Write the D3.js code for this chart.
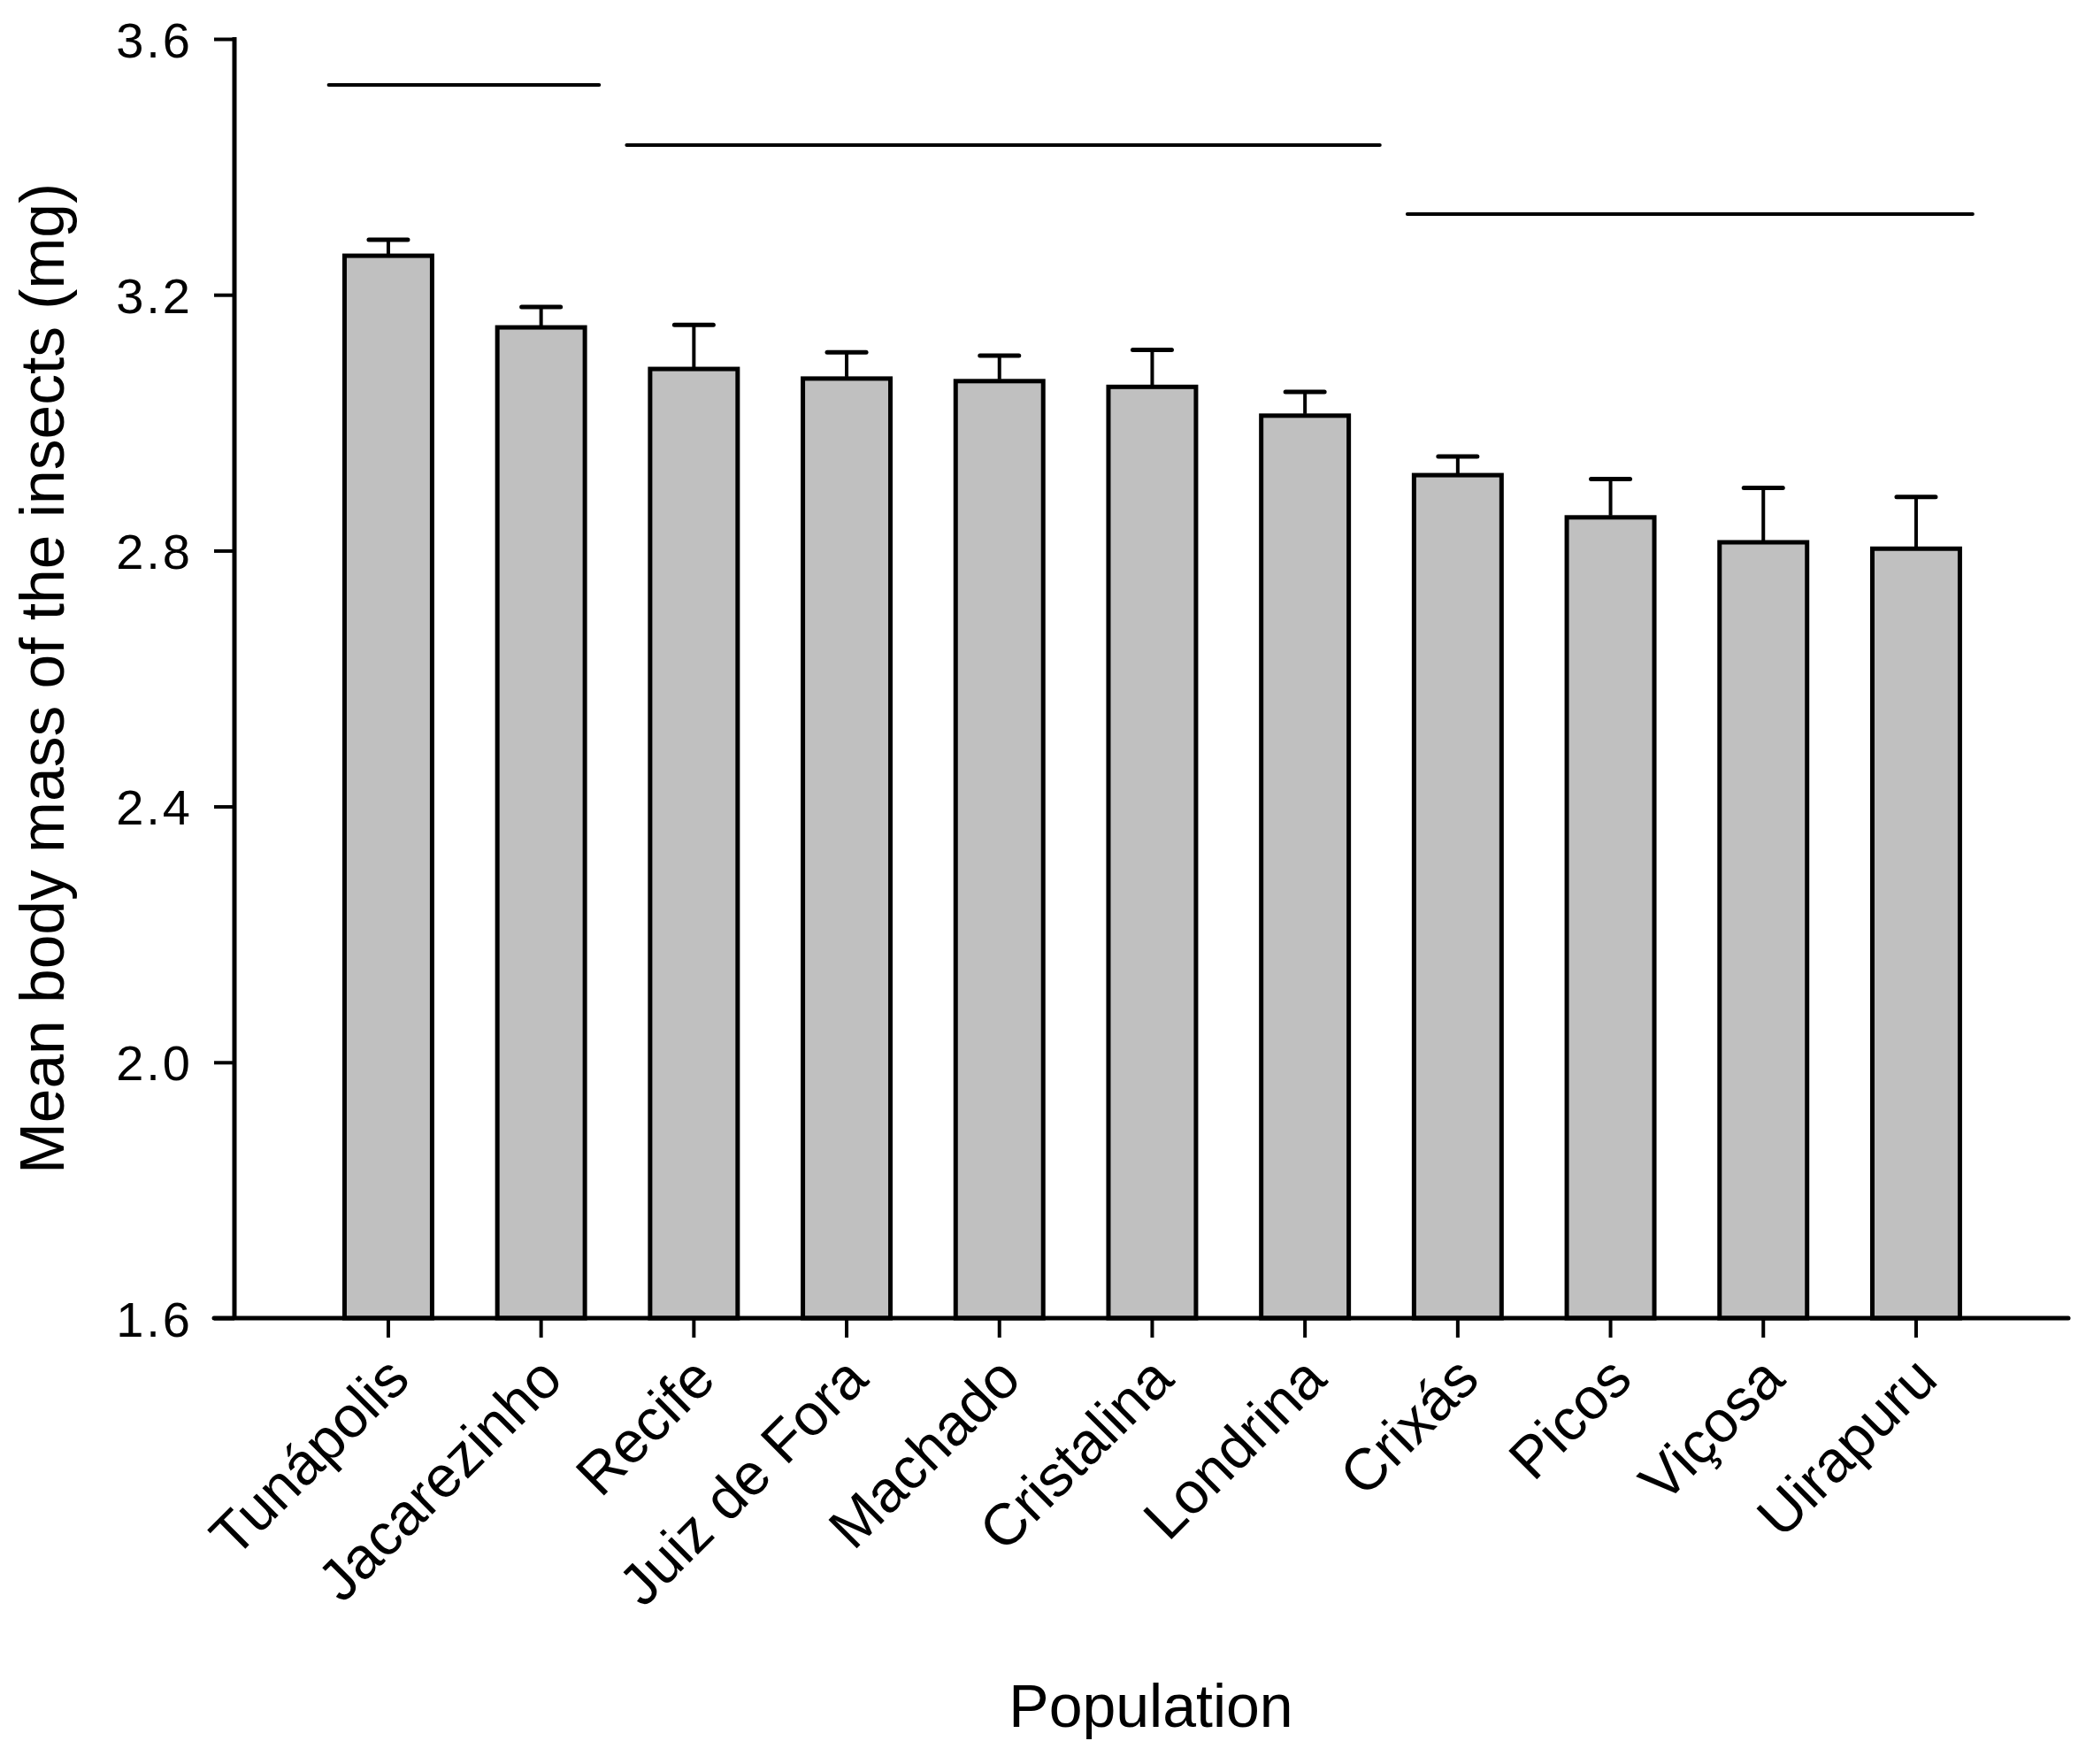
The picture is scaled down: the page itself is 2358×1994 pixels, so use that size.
<!DOCTYPE html>
<html>
<head>
<meta charset="utf-8">
<script src="https://cdn.jsdelivr.net/npm/d3@7"></script>
<style>
  html, body { margin: 0; padding: 0; background: #fff; }
  svg text { font-family: "Liberation Sans", Arial, sans-serif; fill: #000; }
</style>
</head>
<body>
<div id="chart"></div>
<script>
// Mean body mass per population, bars with SE and grouping lines

const categories = ["Tunápolis", "Jacarezinho", "Recife", "Juiz de Fora", "Machado",
                    "Cristalina", "Londrina", "Crixás", "Picos", "Viçosa", "Uirapuru"];
const means  = [3.261, 3.149, 3.084, 3.069, 3.065, 3.056, 3.011, 2.918, 2.852, 2.813, 2.803];
const errors = [0.025, 0.032, 0.069, 0.041, 0.040, 0.058, 0.037, 0.029, 0.060, 0.085, 0.081];
const yTicks = [1.6, 2.0, 2.4, 2.8, 3.2, 3.6];

// grouping lines above the bars (category index units)
const groupFrom  = [-0.39, 1.56, 6.67];
const groupTo    = [1.38, 6.49, 10.37];
const groupLevel = [3.528, 3.434, 3.326];

const width = 2358, height = 1994;
const axisX = 265, axisRight = 2338;
const tickLen = 23;

const svg = d3.select("#chart").append("svg")
    .attr("width", width).attr("height", height);

const y = d3.scaleLinear().domain([1.6, 3.6]).range([1490, 44]);
const x = d3.scaleBand().domain(categories)
    .range([352.6, 2252.3]).paddingInner(0.427).paddingOuter(0.2135);
const xc = d => x(d) + x.bandwidth() / 2;
const xi = d3.scaleLinear().domain([0, categories.length - 1])
    .range([xc(categories[0]), xc(categories[categories.length - 1])]);

const data = categories.map((c, i) => ({ name: c, mean: means[i], err: errors[i] }));

// --- BARS ---
svg.append("g").selectAll("rect").data(data).join("rect")
    .attr("x", d => x(d.name)).attr("width", x.bandwidth())
    .attr("y", d => y(d.mean)).attr("height", d => y(1.6) - y(d.mean))
    .attr("fill", "#c0c0c0").attr("stroke", "#000").attr("stroke-width", 5);

// --- ERROR BARS (upper only) ---
const eb = svg.append("g").attr("stroke", "#000");
eb.selectAll("line.stem").data(data).join("line").attr("class", "stem")
    .attr("x1", d => xc(d.name)).attr("x2", d => xc(d.name))
    .attr("y1", d => y(d.mean) - 2).attr("y2", d => y(d.mean + d.err))
    .attr("stroke-width", 4);
eb.selectAll("line.cap").data(data).join("line").attr("class", "cap")
    .attr("x1", d => xc(d.name) - 22).attr("x2", d => xc(d.name) + 22)
    .attr("y1", d => y(d.mean + d.err)).attr("y2", d => y(d.mean + d.err))
    .attr("stroke-width", 5).attr("stroke-linecap", "round");

// --- GROUP LINES ---
svg.append("g").selectAll("line").data(groupLevel).join("line")
    .attr("x1", (d, i) => xi(groupFrom[i])).attr("x2", (d, i) => xi(groupTo[i]))
    .attr("y1", d => y(d)).attr("y2", d => y(d))
    .attr("stroke", "#000").attr("stroke-width", 4).attr("stroke-linecap", "round");

// --- Y AXIS ---
const yAxis = svg.append("g").attr("transform", `translate(${axisX},0)`)
    .call(d3.axisLeft(y).tickValues(yTicks).tickSize(tickLen).tickSizeOuter(0)
        .tickFormat(d3.format(".1f")));
yAxis.select(".domain").remove();
yAxis.selectAll(".tick line").attr("stroke", "#000").attr("stroke-width", 4);
yAxis.selectAll(".tick text")
    .attr("x", -47).attr("dy", "0.36em")
    .attr("font-size", 56).attr("letter-spacing", 3).attr("font-family", null);
yAxis.append("line").attr("x1", 0).attr("x2", 0)
    .attr("y1", y(3.6) - 2).attr("y2", y(1.6))
    .attr("stroke", "#000").attr("stroke-width", 5);

// --- X AXIS ---
const xAxis = svg.append("g").attr("transform", `translate(0,${y(1.6)})`)
    .call(d3.axisBottom(x).tickSize(22).tickSizeOuter(0).tickFormat(""));
xAxis.select(".domain").remove();
xAxis.selectAll(".tick line").attr("stroke", "#000").attr("stroke-width", 4);
xAxis.append("line").attr("x1", axisX - tickLen).attr("x2", axisRight)
    .attr("y1", 0).attr("y2", 0)
    .attr("stroke", "#000").attr("stroke-width", 5).attr("stroke-linecap", "round");

svg.append("g").selectAll("text").data(categories).join("text")
    .attr("transform", d => `translate(${xc(d) + 27},${y(1.6) + 72}) rotate(-45)`)
    .attr("text-anchor", "end").attr("font-size", 66)
    .text(d => d);

// --- AXIS TITLES ---
svg.append("text")
    .attr("transform", `translate(72,767) rotate(-90)`)
    .attr("text-anchor", "middle").attr("font-size", 69.5)
    .text("Mean body mass of the insects (mg)");

svg.append("text")
    .attr("x", 1301).attr("y", 1952)
    .attr("text-anchor", "middle").attr("font-size", 68)
    .text("Population");
</script>
</body>
</html>
